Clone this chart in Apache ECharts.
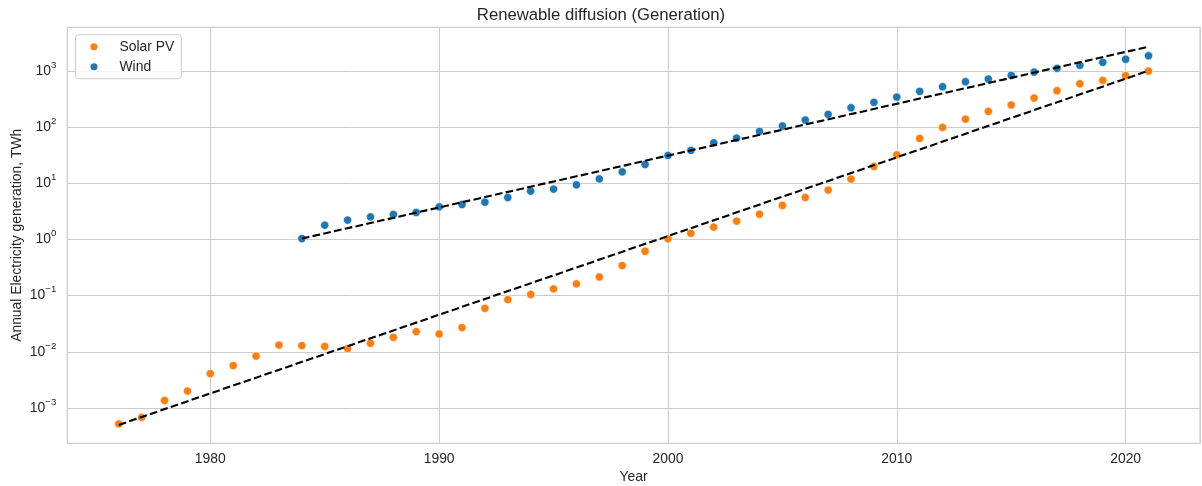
<!DOCTYPE html>
<html>
<head>
<meta charset="utf-8">
<script src="https://cdn.jsdelivr.net/npm/echarts@6/dist/echarts.min.js"></script>
<style>
  html, body { margin: 0; padding: 0; background: #ffffff; }
  #chart { width: 1202px; height: 486px; }
</style>
</head>
<body>
<div id="chart"></div>
<script>
// Annual generation, TWh
const solarYears = [1976, 1977, 1978, 1979, 1980, 1981, 1982, 1983, 1984, 1985,
  1986, 1987, 1988, 1989, 1990, 1991, 1992, 1993, 1994, 1995,
  1996, 1997, 1998, 1999, 2000, 2001, 2002, 2003, 2004, 2005,
  2006, 2007, 2008, 2009, 2010, 2011, 2012, 2013, 2014, 2015,
  2016, 2017, 2018, 2019, 2020, 2021];
const solarValues = [0.00052, 0.00068, 0.00136, 0.0020, 0.0041, 0.0057, 0.0084, 0.0132, 0.0129, 0.0125,
  0.0114, 0.0142, 0.0181, 0.0229, 0.0208, 0.027, 0.0596, 0.085, 0.105, 0.132,
  0.162, 0.215, 0.344, 0.618, 1.03, 1.29, 1.66, 2.12, 2.82, 4.04,
  5.6, 7.6, 11.9, 20, 32.2, 63, 99, 139, 191, 248,
  330, 446, 594, 683, 826, 1000];

const windYears = [1984, 1985, 1986, 1987, 1988, 1989, 1990, 1991, 1992, 1993,
  1994, 1995, 1996, 1997, 1998, 1999, 2000, 2001, 2002, 2003,
  2004, 2005, 2006, 2007, 2008, 2009, 2010, 2011, 2012, 2013,
  2014, 2015, 2016, 2017, 2018, 2019, 2020, 2021];
const windValues = [1.04, 1.80, 2.21, 2.53, 2.79, 3.03, 3.81, 4.2, 4.62, 5.6,
  7.26, 7.88, 9.4, 12.0, 16.0, 21.7, 31.4, 38.6, 52.7, 64,
  84, 105, 134, 169, 222, 277, 344, 435, 525, 644,
  720, 838, 960, 1117, 1264, 1430, 1620, 1870];

// Exponential trend lines (endpoints of the fitted lines)
const solarFitYears = [1976, 2021];
const solarFitValues = [0.00050, 1010];
const windFitYears = [1984, 2021];
const windFitValues = [1.04, 2710];

const xTickYears = [1980, 1990, 2000, 2010, 2020];

const pairs = (xs, ys) => xs.map((x, i) => [x, ys[i]]);

const FONT = '"Liberation Sans", Arial, sans-serif';
const TEXT = '#262626';
const GRID = '#cccccc';

const chart = echarts.init(document.getElementById('chart'), null, { renderer: 'canvas' });

const option = {
  animation: false,
  backgroundColor: '#ffffff',
  textStyle: { fontFamily: FONT },
  title: {
    text: 'Renewable diffusion (Generation)',
    left: 'center',
    top: 0,
    padding: [7, 0, 5, 66],
    textStyle: { fontFamily: FONT, fontSize: 16.7, fontWeight: 'normal', color: TEXT }
  },
  legend: {
    data: ['Solar PV', 'Wind'],
    orient: 'vertical',
    left: 75.5,
    top: 34.7,
    padding: [4, 7, 4, 13],
    itemGap: 4,
    itemWidth: 25,
    itemHeight: 9,
    icon: 'circle',
    backgroundColor: 'rgba(255,255,255,0.8)',
    borderColor: GRID,
    borderWidth: 1,
    borderRadius: 3,
    formatter: name => '{t|' + name + '}',
    textStyle: {
      fontFamily: FONT, fontSize: 13.9, color: TEXT, lineHeight: 16,
      rich: { t: { fontFamily: FONT, fontSize: 13.9, color: TEXT, lineHeight: 16, padding: [0, 0, 0, 8] } }
    }
  },
  grid: {
    left: 67.3,
    right: 2,
    top: 27.3,
    bottom: 42.7,
    show: true,
    borderColor: GRID,
    borderWidth: 1.2,
    containLabel: false,
    outerBoundsMode: 'none'
  },
  xAxis: {
    type: 'value',
    min: 1973.75,
    max: 2023.25,
    name: 'Year',
    nameLocation: 'middle',
    nameGap: 27,
    nameMoveOverlap: false,
    nameTextStyle: { fontFamily: FONT, fontSize: 13.9, color: TEXT },
    axisLine: { show: false },
    axisTick: { show: false },
    axisLabel: {
      margin: 9,
      fontFamily: FONT,
      fontSize: 13.9,
      color: TEXT,
      showMinLabel: false,
      showMaxLabel: false,
      formatter: v => (xTickYears.indexOf(Math.round(v)) >= 0 && Math.abs(v - Math.round(v)) < 1e-6) ? String(Math.round(v)) : ''
    },
    splitLine: { show: true, lineStyle: { color: GRID, width: 1 } }
  },
  yAxis: {
    type: 'log',
    logBase: 10,
    min: 0.000235,
    max: 6010,
    name: 'Annual Electricity generation, TWh',
    nameLocation: 'middle',
    nameGap: 43,
    nameMoveOverlap: false,
    nameTextStyle: { fontFamily: FONT, fontSize: 13.9, color: TEXT },
    axisLine: { show: false },
    axisTick: { show: false },
    axisLabel: {
      margin: 11,
      showMinLabel: false,
      showMaxLabel: false,
      formatter: v => {
        const e = Math.log10(v);
        const r = Math.round(e);
        if (Math.abs(e - r) > 1e-6) return '';
        const exp = r < 0 ? '\u2212' + (-r) : String(r);
        return '{b|10}{s|' + exp + '}';
      },
      rich: {
        b: { fontFamily: FONT, fontSize: 13.9, color: TEXT, lineHeight: 14, verticalAlign: 'bottom' },
        s: { fontFamily: FONT, fontSize: 9.7, color: TEXT, lineHeight: 10, padding: [0, 0, 8, 0], verticalAlign: 'bottom' }
      }
    },
    splitLine: { show: true, lineStyle: { color: GRID, width: 1 } }
  },
  series: [
    {
      name: 'Solar PV',
      type: 'scatter',
      data: pairs(solarYears, solarValues),
      symbol: 'circle',
      symbolSize: 8.3,
      itemStyle: { color: '#ff7f0e', borderColor: '#ffffff', borderWidth: 0.6, opacity: 1 },
      z: 2
    },
    {
      name: 'Wind',
      type: 'scatter',
      data: pairs(windYears, windValues),
      symbol: 'circle',
      symbolSize: 8.3,
      itemStyle: { color: '#1f77b4', borderColor: '#ffffff', borderWidth: 0.6, opacity: 1 },
      z: 2
    },
    {
      name: 'Solar trend',
      type: 'line',
      data: pairs(solarFitYears, solarFitValues),
      showSymbol: false,
      symbol: 'none',
      lineStyle: { color: '#000000', width: 2.1, type: [7.7, 3.3] },
      z: 3
    },
    {
      name: 'Wind trend',
      type: 'line',
      data: pairs(windFitYears, windFitValues),
      showSymbol: false,
      symbol: 'none',
      lineStyle: { color: '#000000', width: 2.1, type: [7.7, 3.3] },
      z: 3
    }
  ]
};

chart.setOption(option);
</script>
</body>
</html>
